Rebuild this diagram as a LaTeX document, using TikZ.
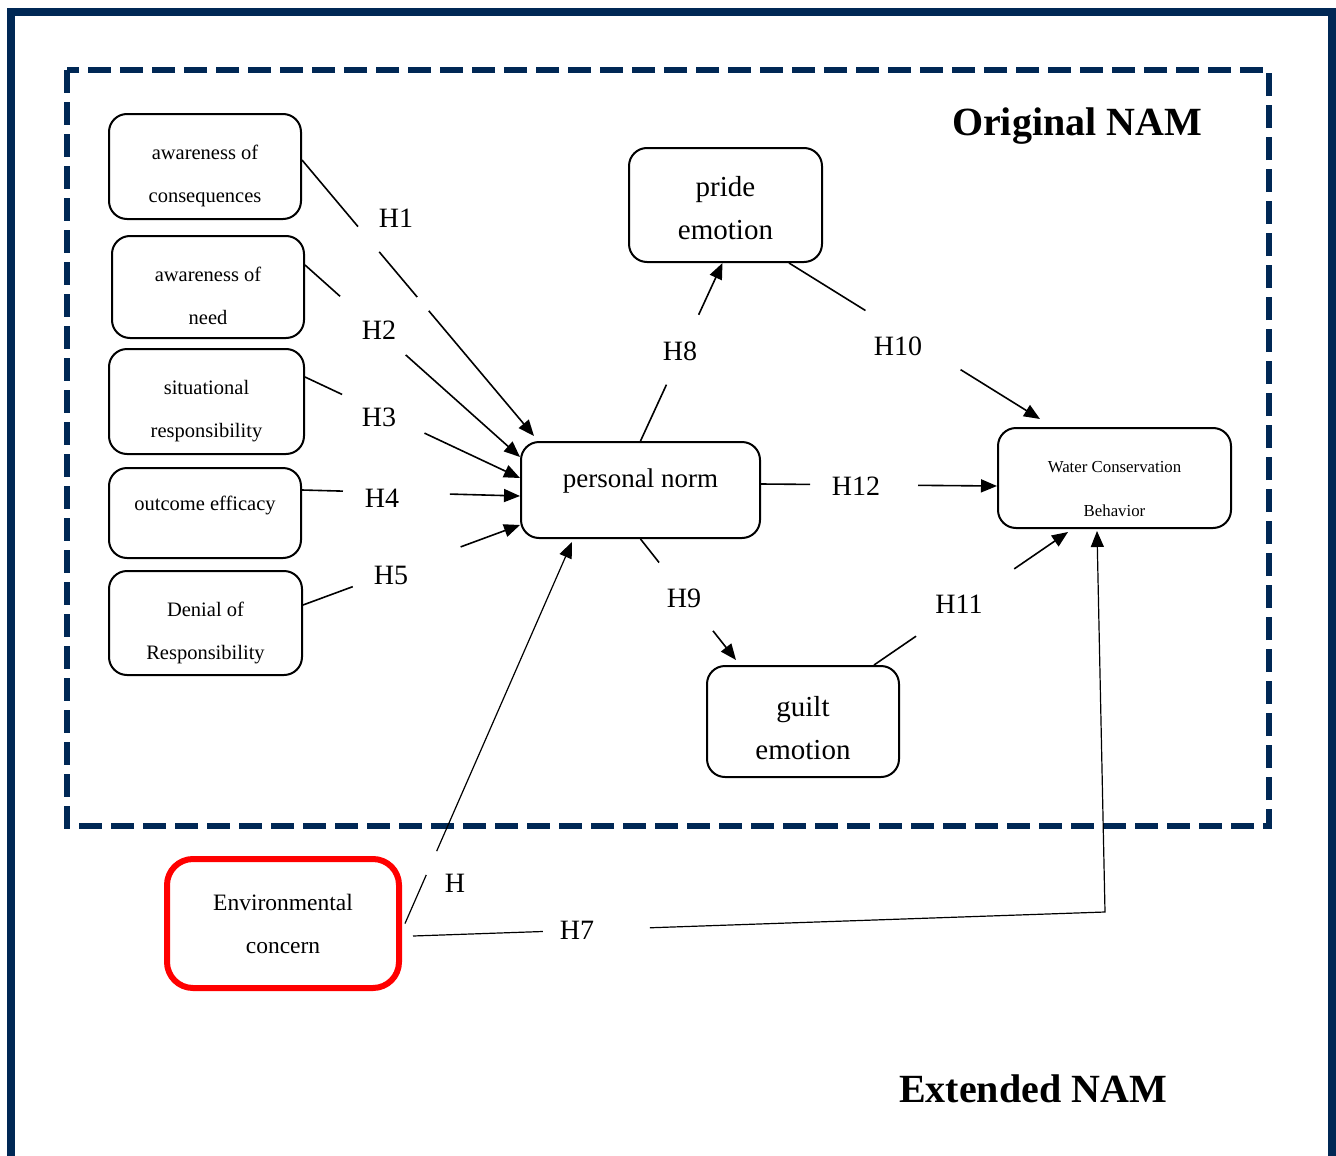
\documentclass[tikz,border=0pt]{standalone}
\usepackage{fontspec}
\setmainfont{Liberation Serif}
\usetikzlibrary{arrows.meta}
\definecolor{navy}{RGB}{0,40,85}
% invisible struts that push box texts down (padtop) or up (padbot)
\newcommand{\padtop}[1]{\rule{0pt}{#1}}
\newcommand{\padbot}[1]{\rule[-#1]{0pt}{0pt}}

\begin{document}
\begin{tikzpicture}[x=1pt,y=-1pt,
	box/.style={draw, line width=2pt, rounded corners=18pt, align=center, inner sep=0pt},
	small/.style={font=\fontsize{20.5}{43}\selectfont},
	big/.style={font=\fontsize{29}{43}\selectfont},
	hyp/.style={font=\fontsize{28}{30}\selectfont, inner sep=0pt},
	link/.style={line width=1.6pt, -{Triangle[length=16pt,width=13pt]}},
	thinlink/.style={link, line width=1.2pt},
	title/.style={font=\fontsize{40}{44}\selectfont\bfseries, anchor=base}]
		\useasboundingbox (0,0) rectangle (1336,1156);
		\draw[navy, line width=8pt] (11,1160) -- (11,12) -- (1332,12) -- (1332,1160);
		\draw[navy, line width=6pt, dash pattern=on 23pt off 9pt] (67,70) rectangle (1269,826);

		\node(orig) at (1077,135) [title] {Original NAM};
		\node(ext) at (1033,1102) [title] {Extended NAM};

		\node(ac) at (205,166.5) [box, small, minimum width=192pt, minimum height=105pt] {\padtop{33pt}awareness of\\consequences};
		\node(an) at (208,287) [box, small, minimum width=192pt, minimum height=102pt] {\padtop{33pt}awareness of\\need};
		\node(sr) at (206.5,401.5) [box, small, minimum width=195pt, minimum height=105pt] {\padtop{34pt}situational\\responsibility};
		\node(oe) at (205,513) [box, small, minimum width=192pt, minimum height=90pt] {outcome efficacy\padbot{20pt}};
		\node(dr) at (205.5,623) [box, small, minimum width=193pt, minimum height=104pt] {\padtop{34pt}Denial of\\Responsibility};
		\node(pn) at (640.5,490) [box, font=\fontsize{27}{43}\selectfont, minimum width=239pt, minimum height=96pt] {personal norm\padbot{24pt}};
		\node(pe) at (725.5,205) [box, big, minimum width=193pt, minimum height=114pt] {\padtop{26pt}pride\\emotion};
		\node(ge) at (803,721.5) [box, big, minimum width=192pt, minimum height=111pt] {\padtop{34pt}guilt\\emotion};
		\node(wcb) at (1114.5,478) [box, font=\fontsize{16.8}{44}\selectfont, minimum width=233pt, minimum height=100pt] {\padtop{33.5pt}Water Conservation\\Behavior};
		\node(ec) at (283,923.5) [box, draw=red, line width=6pt, rounded corners=26pt, font=\fontsize{23.5}{43}\selectfont, minimum width=232pt, minimum height=129pt] {Environmental\\concern};

		\node(h1) at (396,218) [hyp] {H1};
		\node(h2) at (379,330) [hyp] {H2};
		\node(h3) at (379,417) [hyp] {H3};
		\node(h4) at (382,498) [hyp] {H4};
		\node(h5) at (391,575) [hyp] {H5};
		\node(h8) at (680,351) [hyp] {H8};
		\node(h10) at (898,346) [hyp] {H10};
		\node(h12) at (856,486) [hyp] {H12};
		\node(h9) at (684,598) [hyp] {H9};
		\node(h11) at (959,604) [hyp] {H11};
		\node(h) at (455,883) [hyp] {H};
		\node(h7) at (577,930) [hyp] {H7};

		\draw[link, dash pattern=on 87pt off 33pt on 59pt off 18pt on 2000pt] ([yshift=6.5pt]ac.east) -- ([xshift=14pt,yshift=5pt]pn.north west);
		\draw[link, dash pattern=on 47pt off 88pt on 2000pt] ([yshift=22pt]an.east) -- ([yshift=-16pt]pn.north west);
		\draw[link, dash pattern=on 41pt off 91pt on 2000pt] ([yshift=24.5pt]sr.east) -- ([yshift=12pt]pn.west);
		\draw[link, dash pattern=on 41pt off 107pt on 2000pt] ([yshift=23pt]oe.east) -- ([yshift=-6pt]pn.west);
		\draw[link, dash pattern=on 53pt off 115pt on 2000pt] ([yshift=18pt]dr.east) -- ([yshift=14pt]pn.south west);
		\draw[link, dash pattern=on 62pt off 77pt on 2000pt] (pn.north) -- ([xshift=-3pt]pe.south);
		\draw[link, dash pattern=on 90pt off 112pt on 2000pt] ([xshift=-34pt]pe.south east) -- ([xshift=43pt,yshift=8pt]wcb.north west);
		\draw[link, dash pattern=on 49pt off 108pt on 2000pt] ([yshift=6pt]pn.east) -- ([yshift=-8pt]wcb.west);
		\draw[link, dash pattern=on 30pt off 87pt on 2000pt] (pn.south) -- ([xshift=30pt,yshift=5pt]ge.north west);
		\draw[link, dash pattern=on 51pt off 119pt on 2000pt] ([xshift=-26pt]ge.north east) -- ([xshift=71pt,yshift=-3pt]wcb.south west);
		\draw[thinlink, dash pattern=on 53pt off 26pt on 2000pt] ([xshift=3pt]ec.east) -- ([xshift=52pt,yshift=-3pt]pn.south west);
		\coordinate(h7c) at (1105,912);
		\draw[thinlink, dash pattern=on 130pt off 107pt on 2000pt] ([xshift=11pt,yshift=-12.5pt]ec.east) -- (h7c) -- ([xshift=-17.5pt,yshift=-2pt]wcb.south);
\end{tikzpicture}
\end{document}
